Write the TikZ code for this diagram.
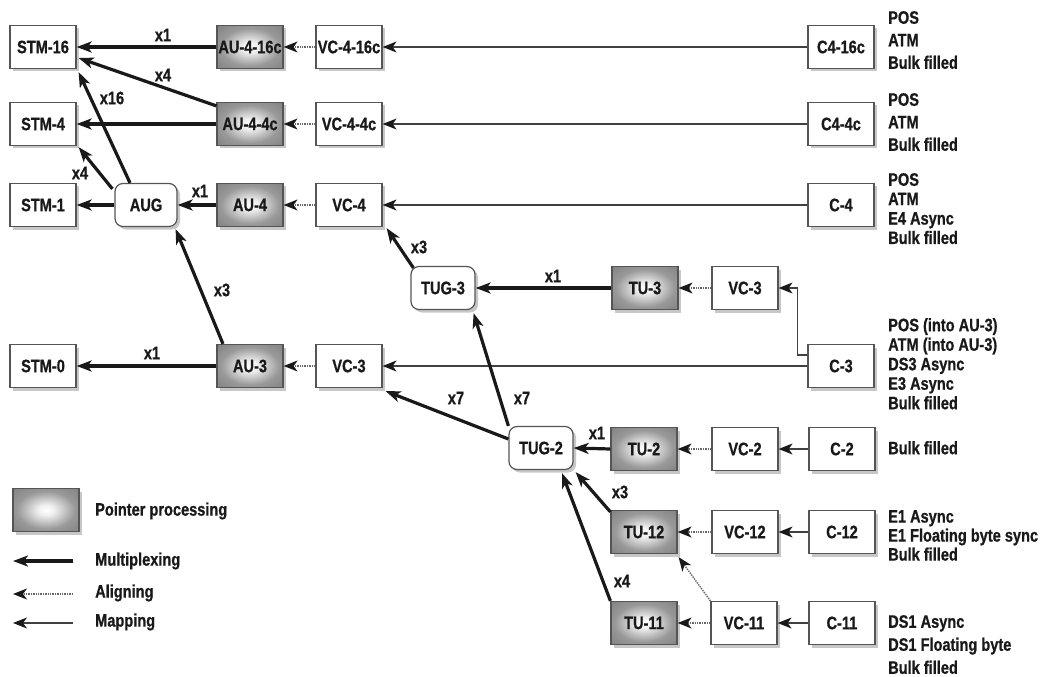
\documentclass[tikz,border=0pt]{standalone}
\usepackage{fontspec}
\setmainfont{Liberation Sans}[FakeStretch=0.81, BoldFeatures={FakeBold=0.8}]
\usetikzlibrary{arrows.meta,shadows,calc}
\definecolor{ink}{RGB}{25,25,25}
\definecolor{edge}{RGB}{85,85,85}
\pgfdeclareradialshading{ptrshade}{\pgfpoint{0bp}{0bp}}{color(0bp)=(white); color(6bp)=(white!94!black); color(22bp)=(black!40); color(40bp)=(black!52); color(60bp)=(black!56)}
\begin{document}
\begin{tikzpicture}[x=1bp,y=-1bp,
  font=\bfseries\fontsize{18bp}{20bp}\selectfont, text=ink,
  box/.style={draw=edge, line width=1.2bp, fill=white, minimum width=66bp, minimum height=43bp, inner sep=0pt,
    drop shadow={shadow xshift=3bp, shadow yshift=-3bp, fill=black!22, opacity=1}},
  rbox/.style={box, rounded corners=8bp},
  ptr/.style={box, shading=ptrshade},
  lbl/.style={inner sep=0pt},
  info/.style={anchor=north west, align=left, inner sep=0pt},
  mux/.style={draw=ink, line width=3.2bp, -{Stealth[length=15bp,width=11bp,inset=4bp]}},
  aln/.style={draw=black!60, line width=1.4bp, densely dotted, -{Stealth[length=14bp,width=11bp,inset=4bp,black!90]}},
  mapp/.style={draw=black!75, line width=1.4bp, -{Stealth[length=14bp,width=11bp,inset=4bp,black!90]}}
]
\useasboundingbox (0,0) rectangle (1045,677);

% row STM-16
\node[box] (stm16) at (43,47) {STM-16};
\node[ptr] (au416) at (250,47) {AU-4-16c};
\node[box] (vc416) at (349,47) {VC-4-16c};
\node[box] (c416) at (841,47) {C4-16c};
% row STM-4
\node[box] (stm4) at (43,124) {STM-4};
\node[ptr] (au44) at (250,124) {AU-4-4c};
\node[box] (vc44) at (349,124) {VC-4-4c};
\node[box] (c44) at (841,124) {C4-4c};
% row STM-1
\node[box] (stm1) at (43,205) {STM-1};
\node[rbox, minimum width=62bp] (aug) at (146,205) {AUG};
\node[ptr] (au4) at (250,205) {AU-4};
\node[box] (vc4) at (349,205) {VC-4};
\node[box] (c4) at (841,205) {C-4};
% TUG-3 row
\node[rbox, minimum width=64bp] (tug3) at (443,288) {TUG-3};
\node[ptr] (tu3) at (645,288) {TU-3};
\node[box] (vc3r) at (745,288) {VC-3};
% STM-0 row
\node[box] (stm0) at (43,366) {STM-0};
\node[ptr] (au3) at (250,366) {AU-3};
\node[box] (vc3l) at (349,366) {VC-3};
\node[box] (c3) at (841,366) {C-3};
% TUG-2 rows
\node[rbox, minimum width=64bp] (tug2) at (541,448) {TUG-2};
\node[ptr] (tu2) at (644,449) {TU-2};
\node[box] (vc2) at (745,449) {VC-2};
\node[box] (c2) at (842,449) {C-2};
\node[ptr] (tu12) at (644,532) {TU-12};
\node[box] (vc12) at (745,532) {VC-12};
\node[box] (c12) at (842,532) {C-12};
\node[ptr] (tu11) at (644,623) {TU-11};
\node[box] (vc11) at (744,623) {VC-11};
\node[box] (c11) at (842,623) {C-11};

% mapping arrows
\draw[mapp] (c416.west) -- (vc416.east);
\draw[mapp] (c44.west) -- (vc44.east);
\draw[mapp] (c4.west) -- (vc4.east);
\draw[mapp] (c3.west) -- (vc3l.east);
\draw[mapp] ([yshift=11bp]c3.west) -- ++(-10,0) |- (vc3r.east);
\draw[mapp] (c2.west) -- (vc2.east);
\draw[mapp] (c12.west) -- (vc12.east);
\draw[mapp] (c11.west) -- (vc11.east);

% aligning arrows
\draw[aln] (vc416.west) -- (au416.east);
\draw[aln] (vc44.west) -- (au44.east);
\draw[aln] (vc4.west) -- (au4.east);
\draw[aln] (vc3l.west) -- (au3.east);
\draw[aln] (vc3r.west) -- (tu3.east);
\draw[aln] (vc2.west) -- (tu2.east);
\draw[aln] (vc12.west) -- (tu12.east);
\draw[aln] (vc11.west) -- (tu11.east);
\draw[aln] (vc11.north west) -- ([xshift=1bp,yshift=-3bp]tu12.south east);

% multiplexing arrows
\draw[mux] (au416.west) -- (stm16.east);
\draw[mux] ([yshift=-4bp]au44.north west) -- ([xshift=2bp,yshift=-11bp]stm16.east);
\draw[mux] (au44.west) -- (stm4.east);
\draw[mux] ([xshift=-16bp]aug.north) -- ([xshift=2bp,yshift=-3bp]stm16.south east);
\draw[mux] ([xshift=-2bp,yshift=-6bp]aug.north west) -- ([xshift=2bp,yshift=-1bp]stm4.south east);
\draw[mux] (aug.west) -- (stm1.east);
\draw[mux] (au4.west) -- (aug.east);
\draw[mux] ([xshift=-27bp]au3.north) -- ([xshift=-2bp,yshift=-2bp]aug.south east);
\draw[mux] (au3.west) -- (stm0.east);
\draw[mux] ([xshift=3bp,yshift=-2bp]tug3.north west) -- ([xshift=4bp,yshift=-1bp]vc4.south east);
\draw[mux] (tu3.west) -- (tug3.east);
\draw[mux] ([yshift=9bp]tug2.west) -- ([xshift=3bp,yshift=-3bp]vc3l.south east);
\draw[mux] (tug2.north west) -- ([xshift=-2bp,yshift=-3bp]tug3.south east);
\draw[mux] (tu2.west) -- (tug2.east);
\draw[mux] ([yshift=-2bp]tu12.north west) -- ([xshift=2bp,yshift=-2bp]tug2.south east);
\draw[mux] (tu11.north west) -- ([xshift=21bp,yshift=-3bp]tug2.south);

% multiplicity labels
\node[lbl] (l1) at (163,35) {x1};
\node[lbl] (l2) at (163,75) {x4};
\node[lbl] (l3) at (112,98) {x16};
\node[lbl] (l4) at (80,173) {x4};
\node[lbl] (l5) at (200,191) {x1};
\node[lbl] (l6) at (222,290) {x3};
\node[lbl] (l7) at (152,353) {x1};
\node[lbl] (l8) at (419,247) {x3};
\node[lbl] (l9) at (553,276) {x1};
\node[lbl] (l10) at (456,398) {x7};
\node[lbl] (l11) at (522,398) {x7};
\node[lbl] (l12) at (597,433) {x1};
\node[lbl] (l13) at (620,492) {x3};
\node[lbl] (l14) at (622,581) {x4};

% payload texts
\node[info, font=\bfseries\fontsize{18bp}{22.5bp}\selectfont] (t1) at (888,11) {POS\\ATM\\Bulk filled};
\node[info, font=\bfseries\fontsize{18bp}{22.5bp}\selectfont] (t2) at (888,93) {POS\\ATM\\Bulk filled};
\node[info, font=\bfseries\fontsize{18bp}{19.4bp}\selectfont] (t3) at (888,173) {POS\\ATM\\E4 Async\\Bulk filled};
\node[info, font=\bfseries\fontsize{18bp}{19.5bp}\selectfont] (t4) at (888,318) {POS (into AU-3)\\ATM (into AU-3)\\DS3 Async\\E3 Async\\Bulk filled};
\node[info] (t5) at (888,441) {Bulk filled};
\node[info, font=\bfseries\fontsize{18bp}{19bp}\selectfont] (t6) at (888,510) {E1 Async\\E1 Floating byte sync\\Bulk filled};
\node[info, font=\bfseries\fontsize{18bp}{23bp}\selectfont] (t7) at (888,615) {DS1 Async\\DS1 Floating byte\\Bulk filled};

% legend
\node[ptr] (lgbox) at (46,510) {};
\node[anchor=west, inner sep=0pt] (lgt1) at (95,511) {Pointer processing};
\coordinate (m1) at (73,561); \coordinate (m0) at (13,561);
\draw[mux] (m1) -- (m0);
\node[anchor=west, inner sep=0pt] (lgt2) at (95,561) {Multiplexing};
\coordinate (a1) at (73,594); \coordinate (a0) at (13,594);
\draw[aln] (a1) -- (a0);
\node[anchor=west, inner sep=0pt] (lgt3) at (95,593) {Aligning};
\coordinate (p1) at (73,623); \coordinate (p0) at (13,623);
\draw[mapp] (p1) -- (p0);
\node[anchor=west, inner sep=0pt] (lgt4) at (95,622) {Mapping};
\end{tikzpicture}
\end{document}
